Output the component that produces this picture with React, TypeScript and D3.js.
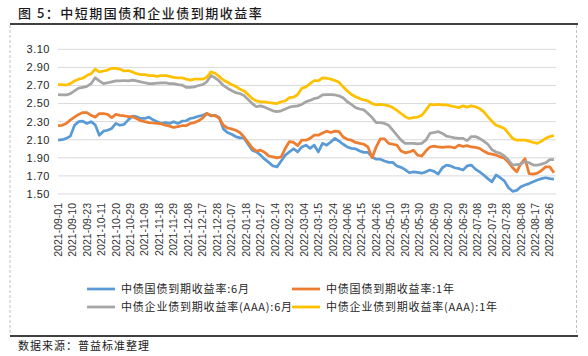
import React from "react";
import * as d3 from "d3";

const dateLabels = ["2021-09-01","2021-09-10","2021-09-23","2021-10-11","2021-10-20","2021-10-29","2021-11-09","2021-11-18","2021-11-29","2021-12-08","2021-12-17","2021-12-28","2022-01-07","2022-01-18","2022-01-27","2022-02-14","2022-02-23","2022-03-04","2022-03-15","2022-03-24","2022-04-06","2022-04-15","2022-04-26","2022-05-10","2022-05-19","2022-05-30","2022-06-09","2022-06-20","2022-06-29","2022-07-08","2022-07-19","2022-07-28","2022-08-08","2022-08-17","2022-08-26"];
const labelStep = 7; // trading days between labels
const totalDays = 242; // trading days 2021-09-01 .. 2022-08-31
const sampleStep = 2; // one value every 2 trading days

const yTicks = [1.5, 1.7, 1.9, 2.1, 2.3, 2.5, 2.7, 2.9, 3.1];

const seriesNames = [
  "中债国债到期收益率:6月",
  "中债国债到期收益率:1年",
  "中债企业债到期收益率(AAA):6月",
  "中债企业债到期收益率(AAA):1年",
];
const seriesColors = ["#5B9BD5", "#ED7D31", "#A5A5A5", "#FFC000"];

const govt6m = [
  2.095, 2.10, 2.115, 2.14, 2.26, 2.30, 2.305, 2.28, 2.30, 2.265, 2.15, 2.195, 2.205, 2.225, 2.28, 2.26, 2.27, 2.32, 2.36, 2.355, 2.335, 2.335, 2.35, 2.32, 2.30, 2.28, 2.29, 2.28, 2.30, 2.28, 2.305,
  2.31, 2.335, 2.345, 2.36, 2.37, 2.39, 2.365, 2.37, 2.345, 2.22, 2.18, 2.16, 2.135, 2.12, 2.12, 2.05, 1.985, 1.965, 1.93, 1.885, 1.85, 1.81, 1.80, 1.865, 1.93, 1.965, 2.00, 1.965, 2.02, 2.04,
  2.005, 2.04, 1.965, 2.06, 2.04, 2.075, 2.115, 2.085, 2.05, 2.02, 2.005, 2.00, 1.975, 1.96, 1.96, 1.91, 1.885, 1.885, 1.865, 1.85, 1.85, 1.81, 1.795, 1.77, 1.735, 1.745, 1.74, 1.73, 1.745, 1.765,
  1.75, 1.72, 1.79, 1.82, 1.81, 1.79, 1.78, 1.765, 1.81, 1.82, 1.775, 1.745, 1.71, 1.67, 1.635, 1.71, 1.68, 1.645, 1.57, 1.53, 1.54, 1.58, 1.60, 1.615, 1.635, 1.655, 1.67, 1.68, 1.67, 1.665,
];
const govt1y = [
  2.255, 2.26, 2.28, 2.32, 2.35, 2.38, 2.40, 2.40, 2.37, 2.35, 2.39, 2.39, 2.38, 2.345, 2.38, 2.37, 2.365, 2.355, 2.355, 2.335, 2.31, 2.30, 2.29, 2.285, 2.28, 2.275, 2.26, 2.25, 2.235, 2.245, 2.255,
  2.255, 2.28, 2.29, 2.31, 2.34, 2.39, 2.37, 2.365, 2.34, 2.26, 2.23, 2.22, 2.205, 2.18, 2.13, 2.07, 2.01, 1.975, 1.985, 1.96, 1.92, 1.91, 1.90, 1.91, 2.005, 2.08, 2.07, 2.035, 2.095, 2.095,
  2.115, 2.15, 2.15, 2.175, 2.195, 2.18, 2.195, 2.19, 2.13, 2.105, 2.095, 2.07, 2.06, 2.05, 2.02, 1.90, 2.02, 2.11, 2.11, 2.06, 2.05, 2.04, 1.975, 1.955, 1.965, 1.985, 1.93, 1.92, 1.975, 2.02,
  2.03, 2.02, 2.015, 2.02, 2.02, 2.01, 2.04, 2.025, 2.035, 2.02, 2.015, 2.005, 1.975, 1.95, 1.94, 1.93, 1.91, 1.895, 1.85, 1.79, 1.745, 1.835, 1.89, 1.725, 1.72, 1.73, 1.76, 1.80, 1.80, 1.735,
];
const corp6m = [
  2.60, 2.595, 2.595, 2.61, 2.64, 2.67, 2.68, 2.69, 2.72, 2.785, 2.75, 2.72, 2.73, 2.74, 2.75, 2.75, 2.755, 2.75, 2.76, 2.75, 2.74, 2.73, 2.72, 2.72, 2.725, 2.73, 2.73, 2.72, 2.72, 2.71, 2.705,
  2.68, 2.68, 2.685, 2.70, 2.71, 2.74, 2.81, 2.785, 2.75, 2.70, 2.67, 2.645, 2.62, 2.61, 2.59, 2.545, 2.50, 2.465, 2.475, 2.46, 2.44, 2.42, 2.41, 2.42, 2.44, 2.46, 2.47, 2.475, 2.49, 2.52,
  2.535, 2.555, 2.565, 2.595, 2.60, 2.60, 2.595, 2.585, 2.565, 2.52, 2.49, 2.455, 2.44, 2.43, 2.39, 2.345, 2.29, 2.29, 2.28, 2.26, 2.205, 2.15, 2.095, 2.06, 2.06, 2.06, 2.055, 2.06, 2.095, 2.17,
  2.18, 2.19, 2.17, 2.14, 2.13, 2.12, 2.115, 2.115, 2.09, 2.135, 2.135, 2.115, 2.085, 2.05, 1.99, 1.965, 1.95, 1.92, 1.875, 1.82, 1.825, 1.83, 1.86, 1.845, 1.82, 1.82, 1.83, 1.845, 1.88, 1.88,
];
const corp1y = [
  2.71, 2.71, 2.705, 2.72, 2.75, 2.77, 2.78, 2.81, 2.83, 2.88, 2.85, 2.86, 2.87, 2.89, 2.89, 2.88, 2.86, 2.865, 2.85, 2.83, 2.82, 2.82, 2.81, 2.81, 2.80, 2.81, 2.81, 2.80, 2.79, 2.785, 2.785,
  2.77, 2.76, 2.77, 2.77, 2.77, 2.79, 2.85, 2.835, 2.80, 2.76, 2.735, 2.71, 2.69, 2.66, 2.64, 2.60, 2.555, 2.53, 2.52, 2.52, 2.51, 2.505, 2.50, 2.52, 2.53, 2.565, 2.57, 2.60, 2.67, 2.685,
  2.72, 2.755, 2.75, 2.785, 2.78, 2.77, 2.755, 2.735, 2.685, 2.64, 2.60, 2.575, 2.555, 2.54, 2.53, 2.50, 2.485, 2.49, 2.485, 2.475, 2.455, 2.425, 2.39, 2.355, 2.335, 2.345, 2.35, 2.37, 2.425, 2.49,
  2.485, 2.49, 2.485, 2.485, 2.475, 2.465, 2.455, 2.475, 2.46, 2.475, 2.465, 2.445, 2.41, 2.355, 2.305, 2.26, 2.245, 2.225, 2.17, 2.115, 2.095, 2.095, 2.095, 2.085, 2.07, 2.06, 2.085, 2.115, 2.135, 2.145,
];

const allSeries = [govt6m, govt1y, corp6m, corp1y];

const W = 588;
const H = 356;
const plotLeft = 58;
const plotRight = 556;
const plotTop = 49.3;
const plotBottom = 194;

export default function App() {
  const x = d3.scaleLinear().domain([0, totalDays - 1]).range([plotLeft, plotRight]);
  const y = d3.scaleLinear().domain([1.5, 3.1]).range([plotBottom, plotTop]);
  const line = d3
    .line<number>()
    .x((_, i) => x(i * sampleStep))
    .y((d) => y(d));
  const fmt = d3.format(".2f");
  const cjk = "'Noto Sans CJK SC', 'Noto Sans', sans-serif";
  const latin = "Arial, 'Liberation Sans', sans-serif";

  const legendPos = [
    { x: 87, y: 289 },
    { x: 292, y: 289 },
    { x: 87, y: 307 },
    { x: 292, y: 307 },
  ];

  return (
    <svg
      width={W}
      height={H}
      style={{ position: "absolute", left: 0, top: 0, background: "#fff" }}
    >
      <rect x={0} y={0} width={W} height={H} fill="#fff" />
      <text x={18} y={17.5} fontFamily={cjk} fontSize={13} fontWeight={500} letterSpacing={1.5} fill="#1a1a1a">
        图 5：中短期国债和企业债到期收益率
      </text>
      <line x1={10} x2={578} y1={24} y2={24} stroke="#000" strokeWidth={1.5} />
      <line x1={10} x2={10} y1={25} y2={335} stroke="#bfbfbf" strokeDasharray="3,2" />
      <line x1={576.5} x2={576.5} y1={25} y2={335} stroke="#bfbfbf" strokeDasharray="3,2" />
      <line x1={10} x2={578} y1={336} y2={336} stroke="#000" strokeWidth={1.5} />
      <text x={18} y={350} fontFamily={cjk} fontSize={11} letterSpacing={1} fill="#1a1a1a">
        数据来源：普益标准整理
      </text>

      {yTicks.map((t) => (
        <g key={t}>
          <line x1={plotLeft} x2={plotRight} y1={y(t)} y2={y(t)} stroke="#d9d9d9" strokeWidth={1} />
          <text
            x={50}
            y={y(t)}
            dy="0.35em"
            textAnchor="end"
            fontFamily={latin}
            fontSize={11}
            letterSpacing={0.5}
            fill="#262626"
          >
            {fmt(t)}
          </text>
        </g>
      ))}

      {dateLabels.map((d, k) => {
        const lx = x(k * labelStep);
        return (
          <text
            key={d}
            transform={`translate(${lx},203) rotate(-90)`}
            dy="0.35em"
            textAnchor="end"
            fontFamily={latin}
            fontSize={10.5}
            fill="#333"
          >
            {d}
          </text>
        );
      })}

      {allSeries.map((s, k) => (
        <path
          key={k}
          d={line(s) || ""}
          fill="none"
          stroke={seriesColors[k]}
          strokeWidth={2.75}
          strokeLinejoin="round"
        />
      ))}

      {seriesNames.map((n, k) => (
        <g key={n}>
          <line
            x1={legendPos[k].x}
            x2={legendPos[k].x + 28}
            y1={legendPos[k].y}
            y2={legendPos[k].y}
            stroke={seriesColors[k]}
            strokeWidth={2.75}
          />
          <text
            x={legendPos[k].x + 34}
            y={legendPos[k].y}
            dy="0.35em"
            fontFamily={cjk}
            fontSize={11}
            letterSpacing={0.8}
            fill="#262626"
          >
            {n}
          </text>
        </g>
      ))}
    </svg>
  );
}
